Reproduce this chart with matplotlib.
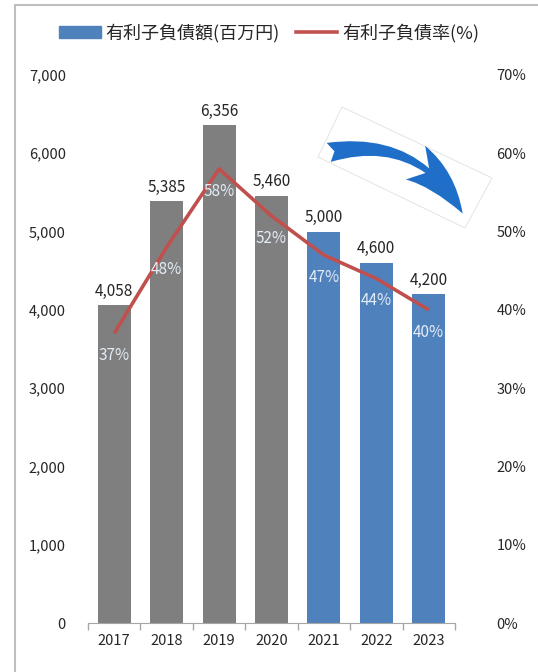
import matplotlib.pyplot as plt
from matplotlib.patches import FancyArrowPatch, Rectangle, Polygon
from matplotlib.lines import Line2D
from matplotlib.ticker import FuncFormatter, FixedLocator
import numpy as np

plt.rcParams['font.family'] = ['Noto Sans CJK JP', 'DejaVu Sans']

years = ['2017', '2018', '2019', '2020', '2021', '2022', '2023']
debt = [4058, 5385, 6356, 5460, 5000, 4600, 4200]          # 百万円
ratio = [37, 48, 58, 52, 47, 44, 40]                       # %
forecast = [False, False, False, False, True, True, True]

GRAY = '#7f7f7f'
BLUE = '#4f81bd'
RED = '#c0504d'
TXT = '#262626'
H = 672

fig = plt.figure(figsize=(5.38, 6.72), dpi=100)
ax = fig.add_axes([0.1636, 0.0729, 0.682, 0.8155])

x = np.arange(len(years))
colors = [BLUE if f else GRAY for f in forecast]
bars = ax.bar(x, debt, width=0.63, color=colors, zorder=2)

for b, v in zip(bars, debt):
    ax.annotate(f'{v:,}', (b.get_x() + b.get_width() / 2, v),
                xytext=(0, 4), textcoords='offset points',
                ha='center', va='bottom', fontsize=11, color=TXT)

ax.set_xlim(-0.5, 6.5)
ax.set_ylim(0, 7000)
ax.set_yticks(range(0, 7001, 1000))
ax.yaxis.set_major_formatter(FuncFormatter(lambda v, p: f'{int(v):,}'))
ax.tick_params(axis='y', length=0, labelsize=10.5, labelcolor=TXT, pad=16)
ax.set_xticks(x)
ax.set_xticklabels(years)
ax.tick_params(axis='x', length=0, labelsize=10.5, labelcolor=TXT, pad=8)
ax.xaxis.set_minor_locator(FixedLocator(np.arange(-0.5, 7, 1)))
ax.tick_params(axis='x', which='minor', length=5, color='#a6a6a6', width=1)
for s in ['left', 'right', 'top']:
    ax.spines[s].set_visible(False)
ax.spines['bottom'].set_color('#a6a6a6')

# 有利子負債率（右軸）
ax2 = ax.twinx()
ax2.set_ylim(0, 70)
ax2.set_yticks(range(0, 71, 10))
ax2.yaxis.set_major_formatter(FuncFormatter(lambda v, p: f'{int(v)}%'))
ax2.tick_params(axis='y', length=0, labelsize=10.5, labelcolor=TXT, pad=30)
for s in ax2.spines.values():
    s.set_visible(False)
ax2.plot(x, ratio, color=RED, lw=2.6, zorder=3, solid_capstyle='butt')
for xi, r in zip(x, ratio):
    ax2.annotate(f'{r}%', (xi, r), xytext=(0, -16), textcoords='offset points',
                 ha='center', va='center', fontsize=11, color='#e4ecf7')

# 右下がりの矢印
frame = Polygon([(342, H - 107), (492, H - 178), (465, H - 228), (318, H - 157)],
                closed=True, transform=None, fill=False, ec='#e0e0e0', lw=0.6)
fig.patches.append(frame)
arrow = FancyArrowPatch(posA=(326, H - 153), posB=(464, H - 216),
                        transform=None,
                        connectionstyle='arc3,rad=-0.38',
                        arrowstyle='fancy,head_length=50,head_width=28,tail_width=14',
                        color='#1f6fc9', lw=0)
fig.patches.append(arrow)

# 凡例
handles = [Rectangle((0, 0), 1, 1, color=BLUE),
           Line2D([0], [0], color=RED, lw=2.6)]
fig.legend(handles, ['有利子負債額(百万円)', '有利子負債率(%)'],
           loc='center', bbox_to_anchor=(0.5, 1 - 33 / H), ncol=2,
           frameon=False, fontsize=13, handlelength=2.3, handletextpad=0.25,
           columnspacing=0.9, labelcolor=TXT)

# 外枠
fig.patches.append(Rectangle((15 / 538, -0.01), 1.1, 1 - 5 / H + 0.01,
                             transform=fig.transFigure, fill=False,
                             ec='#bfbfbf', lw=1.5))

fig.savefig('out.png', dpi=100)
